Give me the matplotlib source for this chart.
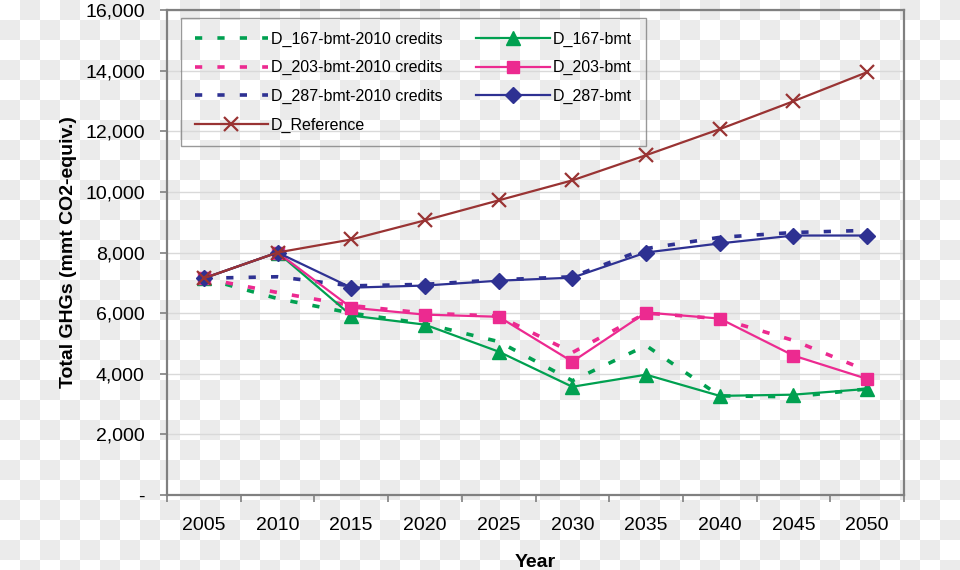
import matplotlib
matplotlib.use("Agg")
import matplotlib.pyplot as plt
import numpy as np
from matplotlib.ticker import FuncFormatter, FixedLocator

plt.rcParams['font.family'] = ['Liberation Sans', 'DejaVu Sans']

# data
years = ['2005', '2010', '2015', '2020', '2025', '2030', '2035', '2040', '2045', '2050']

ref = [7150, 8000, 8430, 9060, 9720, 10380, 11210, 12070, 12990, 13950]

bmt_167 = [7150, 8000, 5920, 5620, 4730, 3570, 3970, 3270, 3310, 3500]
bmt_203 = [7150, 8000, 6180, 5950, 5880, 4400, 6020, 5820, 4600, 3830]
bmt_287 = [7150, 8000, 6840, 6910, 7070, 7170, 8000, 8300, 8560, 8560]

cred_167 = [7150, 6480, 6000, 5650, 5060, 3770, 4930, 3270, 3240, 3500]
cred_203 = [7150, 6680, 6250, 6000, 5900, 4700, 6000, 5820, 5100, 4100]
cred_287 = [7150, 7200, 6900, 6950, 7100, 7200, 8130, 8500, 8660, 8730]

green = '#00a050'
pink = '#ec2a90'
blue = '#2e3192'
brown = '#993333'

W, H = 960, 570
fig = plt.figure(figsize=(W / 100, H / 100), dpi=100)
fig.patch.set_alpha(0)

# transparency checkerboard baked into the reference
yy, xx = np.mgrid[0:H, 0:W]
odd = ((xx // 20) + (yy // 20)) % 2 == 1
bg = np.ones((H, W, 3))
bg[odd] = 235 / 255
fig.figimage(bg, 0, 0, zorder=-10)

ax = fig.add_axes([167 / W, 1 - 495 / H, (904 - 167) / W, (495 - 10) / H])
ax.patch.set_alpha(0)

x = np.arange(len(years))

dash_kw = dict(lw=2.6, dashes=(2.0, 4.2), dash_capstyle='butt')
l1, = ax.plot(x, cred_167, color=green, label='D_167-bmt-2010 credits', **dash_kw)
l2, = ax.plot(x, cred_203, color=pink, label='D_203-bmt-2010 credits', **dash_kw)
l3, = ax.plot(x, cred_287, color=blue, label='D_287-bmt-2010 credits', **dash_kw)

l5, = ax.plot(x, bmt_167, color=green, lw=1.6, marker='^', ms=10, label='D_167-bmt')
l6, = ax.plot(x, bmt_203, color=pink, lw=1.6, marker='s', ms=8.5, label='D_203-bmt')
l7, = ax.plot(x, bmt_287, color=blue, lw=1.6, marker='D', ms=8, label='D_287-bmt')
l4, = ax.plot(x, ref, color=brown, lw=1.6, marker='x', ms=10, mew=1.6, label='D_Reference')

ax.set_xlim(-0.5, len(years) - 0.5)
ax.set_ylim(0, 16000)

ax.set_xticks(x)
ax.set_xticklabels(years)
ax.xaxis.set_minor_locator(FixedLocator(np.arange(-0.5, len(years) - 0.4, 1)))
ax.tick_params(axis='x', which='major', length=0, pad=16, labelsize=14)
ax.tick_params(axis='x', which='minor', length=5, width=1.2, color='#808080')

ax.set_yticks(np.arange(0, 16001, 2000))
ax.yaxis.set_major_formatter(FuncFormatter(lambda v, p: '-' if v == 0 else f'{int(v):,}'))
ax.tick_params(axis='y', length=5, width=1.2, color='#808080', pad=11, labelsize=14)

ax.grid(axis='y', color='#d9d9d9', lw=1)
ax.set_axisbelow(True)
for s in ax.spines.values():
    s.set_color('#808080')
    s.set_linewidth(1.6)

ax.set_xlabel('Year', fontsize=14, fontweight='bold', labelpad=14)
ax.set_ylabel('Total GHGs (mmt CO2-equiv.)', fontsize=14, fontweight='bold', labelpad=6)

leg = ax.legend(handles=[l1, l2, l3, l4, l5, l6, l7], ncol=2, loc='upper left',
                bbox_to_anchor=(181 / W, 1 - 18 / H), bbox_transform=fig.transFigure,
                fontsize=11.5, handlelength=4.6, handletextpad=0.2, columnspacing=2.1,
                labelspacing=0.85, borderpad=0.85, fancybox=False,
                edgecolor='#808080', borderaxespad=0)
leg.get_frame().set_facecolor('none')
leg.get_frame().set_linewidth(1.0)

fig.savefig('out.png', dpi=100)
